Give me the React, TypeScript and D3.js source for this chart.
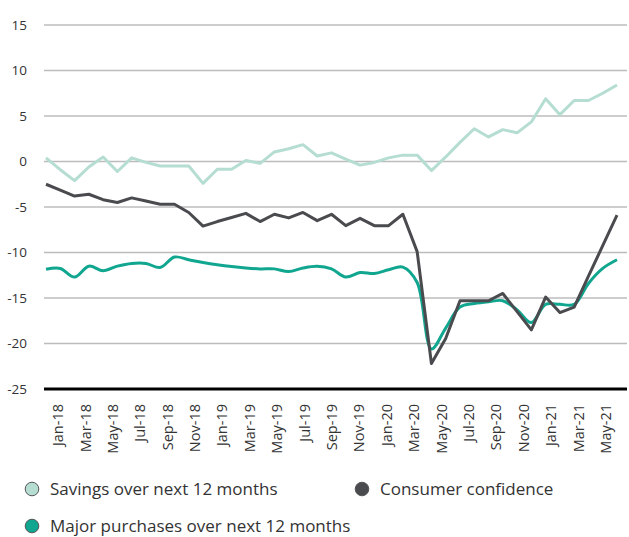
import React from "react";
import * as d3 from "d3";

const months: string[] = [
  "Jan-18","Feb-18","Mar-18","Apr-18","May-18","Jun-18","Jul-18","Aug-18","Sep-18","Oct-18","Nov-18","Dec-18",
  "Jan-19","Feb-19","Mar-19","Apr-19","May-19","Jun-19","Jul-19","Aug-19","Sep-19","Oct-19","Nov-19","Dec-19",
  "Jan-20","Feb-20","Mar-20","Apr-20","May-20","Jun-20","Jul-20","Aug-20","Sep-20","Oct-20","Nov-20","Dec-20",
  "Jan-21","Feb-21","Mar-21","Apr-21","May-21",
];

const savings: number[] = [
  0.4, -0.9, -2.1, -0.6, 0.5, -1.1, 0.4, -0.1, -0.5, -0.5, -0.5, -2.4,
  -0.85, -0.85, 0.1, -0.2, 1.05, 1.4, 1.85, 0.6, 0.95, 0.25, -0.4, -0.1,
  0.4, 0.7, 0.7, -1.0, 0.5, 2.1, 3.6, 2.7, 3.5, 3.15, 4.35, 6.9,
  5.15, 6.7, 6.7, 7.5, 8.4,
];

const confidence: number[] = [
  -2.5, -3.15, -3.8, -3.6, -4.2, -4.5, -4.0, -4.35, -4.7, -4.7, -5.6, -7.1,
  -6.6, -6.15, -5.7, -6.6, -5.8, -6.2, -5.6, -6.5, -5.8, -7.05, -6.25, -7.05,
  -7.05, -5.8, -9.9, -22.2, -19.45, -15.3, -15.3, -15.3, -14.5, -16.5, -18.5, -14.9,
  -16.6, -16.0, -12.6, -9.25, -5.9,
];

const purchases: number[] = [
  -11.85, -11.75, -12.7, -11.5, -12.0, -11.5, -11.2, -11.2, -11.65, -10.5, -10.8, -11.1,
  -11.35, -11.55, -11.7, -11.8, -11.8, -12.1, -11.7, -11.5, -11.8, -12.7, -12.2, -12.3,
  -11.9, -11.6, -13.3, -20.6, -18.3, -16.0, -15.6, -15.4, -15.3, -16.3, -17.7, -15.7,
  -15.7, -15.7, -13.4, -11.75, -10.8,
];

const tickLabels: string[] = months.filter((_, i) => i % 2 === 0);
const yTicks: number[] = [15, 10, 5, 0, -5, -10, -15, -20, -25];

const seriesNames: string[] = ["Savings over next 12 months", "Consumer confidence", "Major purchases over next 12 months"];
const seriesColors: string[] = ["#b5ddd2", "#4a4b4f", "#10a68f"];

export default function App() {
  React.useEffect(() => {
    document.body.style.margin = "0";
  }, []);

  const W = 629;
  const H = 537;
  const gridX0 = 44;
  const gridX1 = 627;

  const x = d3.scalePoint<string>().domain(months).range([46, 617]);
  const xAxis = d3.scaleBand<string>().domain(months).range([51.2, 612.8]);
  const y = d3.scaleLinear().domain([-25, 15]).range([389, 25]);

  const lineLinear = d3
    .line<number>()
    .x((_, i) => x(months[i]) as number)
    .y((d) => y(d));
  const lineSmooth = d3
    .line<number>()
    .x((_, i) => x(months[i]) as number)
    .y((d) => y(d))
    .curve(d3.curveCatmullRom.alpha(0.5));

  const font = "'Open Sans', 'Noto Sans', sans-serif";

  const legendItems = [
    { name: seriesNames[0], color: seriesColors[0], cx: 32, cy: 489 },
    { name: seriesNames[1], color: seriesColors[1], cx: 362, cy: 489 },
    { name: seriesNames[2], color: seriesColors[2], cx: 32, cy: 526 },
  ];

  return (
    <svg width={W} height={H} style={{ display: "block", background: "#fff" }} fontFamily={font}>
      {yTicks.map((t) => (
        <g key={t}>
          {t !== -25 && (
            <line x1={gridX0} x2={gridX1} y1={y(t)} y2={y(t)} stroke="#bcbcbc" strokeWidth={1.3} />
          )}
          <text x={27} y={y(t)} dy="0.35em" textAnchor="end" fontSize={13.5} fill="#333">
            {t}
          </text>
        </g>
      ))}

      <path d={lineLinear(savings) || ""} fill="none" stroke={seriesColors[0]} strokeWidth={3} strokeLinejoin="round" />
      <path d={lineSmooth(purchases) || ""} fill="none" stroke={seriesColors[2]} strokeWidth={3} strokeLinejoin="round" />
      <path d={lineLinear(confidence) || ""} fill="none" stroke={seriesColors[1]} strokeWidth={3} strokeLinejoin="round" />

      <line x1={gridX0} x2={gridX1} y1={y(-25)} y2={y(-25)} stroke="#000" strokeWidth={3} />

      {tickLabels.map((m) => {
        const cx = (xAxis(m) as number) + xAxis.bandwidth() / 2;
        return (
          <text
            key={m}
            transform={`translate(${cx},404) rotate(-90)`}
            dy="0.35em"
            textAnchor="end"
            fontSize={14.5}
            fill="#333"
          >
            {m}
          </text>
        );
      })}

      {legendItems.map((it) => (
        <g key={it.name}>
          <circle cx={it.cx} cy={it.cy} r={6.8} fill={it.color} stroke="#555" strokeWidth={1} />
          <text x={it.cx + 18} y={it.cy} dy="0.35em" fontSize={17} fill="#333">
            {it.name}
          </text>
        </g>
      ))}
    </svg>
  );
}
